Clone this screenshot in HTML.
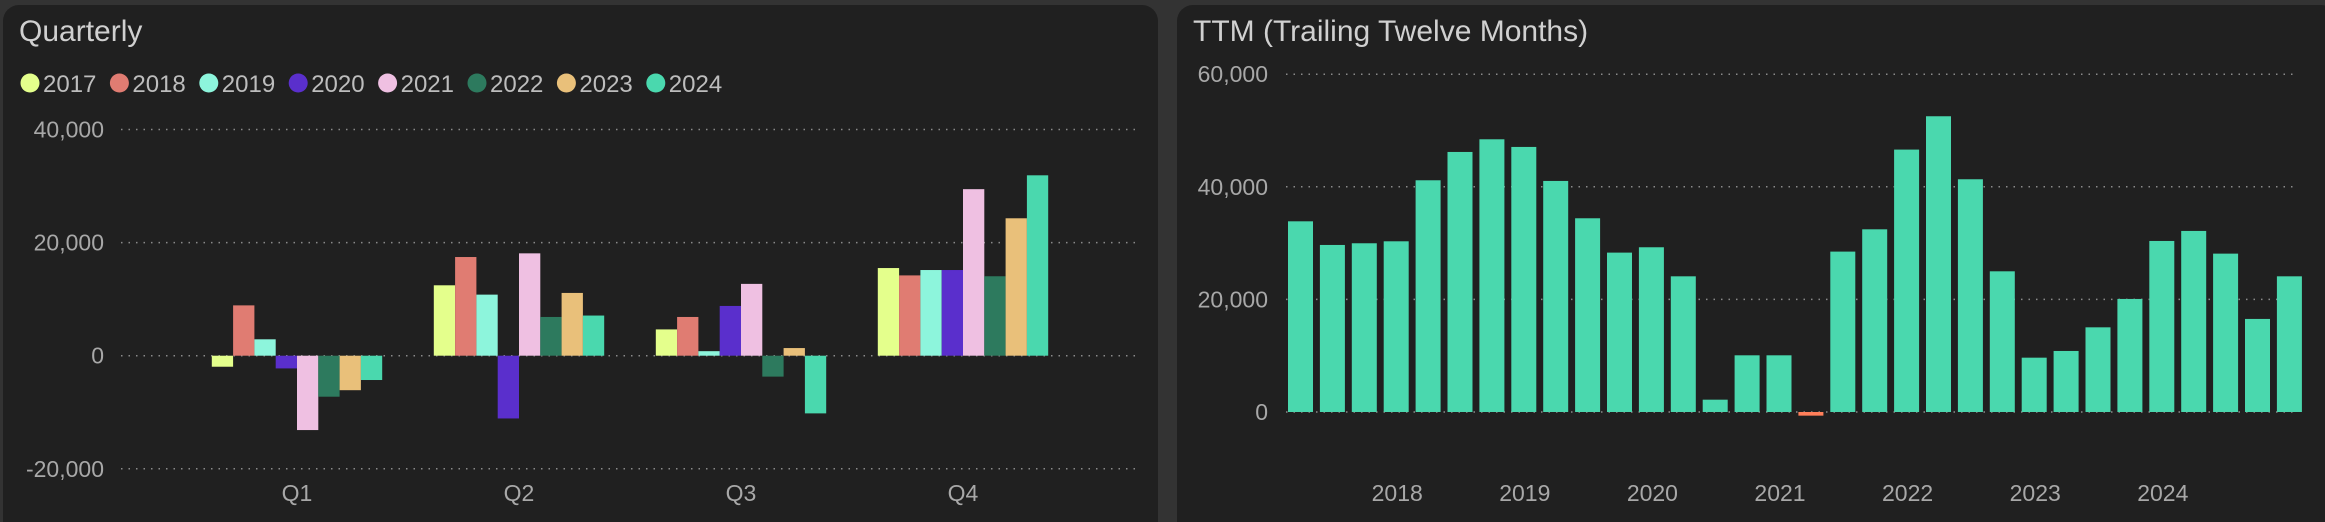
<!DOCTYPE html>
<html><head><meta charset="utf-8"><style>
html,body{margin:0;padding:0;background:#333;width:2325px;height:522px;overflow:hidden}
svg{display:block;font-family:"Liberation Sans",sans-serif}
</style></head><body>
<svg width="2325" height="522">
<rect x="0" y="0" width="2325" height="522" fill="#333"/>
<rect x="3" y="5" width="1155" height="540" rx="16" fill="#202020"/>
<rect x="1177" y="5" width="1160" height="540" rx="16" fill="#202020"/>
<text x="19" y="41" font-size="30" fill="#d0d0d0">Quarterly</text>
<text x="1193" y="41" font-size="30" fill="#d0d0d0">TTM (Trailing Twelve Months)</text>
<g id="q"></g><g id="t"></g>
</svg>
<script>
const years=["2017","2018","2019","2020","2021","2022","2023","2024"];
const colors=["#e4ff8c","#e07c72","#8df5dc","#5a2fcc","#efc0e2","#2d7a5e","#e9c07a","#4ad8ae"];
const quarters=["Q1","Q2","Q3","Q4"];
const v2017=[-1950,12450,4650,15500];
const v2018=[8900,17450,6850,14200];
const v2019=[2900,10800,800,15150];
const v2020=[-2250,-11100,8800,15150];
const v2021=[-13150,18100,12700,29450];
const v2022=[-7250,6850,-3700,14050];
const v2023=[-6100,11100,1350,24300];
const v2024=[-4300,7100,-10200,31900];
const qTicks=[40000,20000,0,-20000];
const ttmValues=[33870,29670,29970,30320,41160,46190,48440,47080,41040,34410,28310,29260,24100,2190,10070,10070,-650,28490,32450,46610,52530,41340,24990,9650,10840,15040,20080,30380,32160,28130,16530,24100];
const ttmYearLabels=["2018","2019","2020","2021","2022","2023","2024"];
const ttmTicks=[60000,40000,20000,0];
const NS="http://www.w3.org/2000/svg";
function mk(p,tag,a){const e=document.createElementNS(NS,tag);for(const k in a)e.setAttribute(k,a[k]);p.appendChild(e);return e;}
const fmt=v=>v.toLocaleString("en-US");
// Quarterly
const q=document.getElementById("q");
const series=[v2017,v2018,v2019,v2020,v2021,v2022,v2023,v2024];
const qy=v=>355.7-v*(113.1/20000);
const qx=i=>297+i*222;
const bw=21.3;
years.forEach((y,i)=>{
  const cx=30+i*89.4;
  const c=mk(q,"circle",{cx:cx,cy:83,r:9.5,fill:colors[i]});
  
  
  const t=mk(q,"text",{x:cx+13,y:92,"font-size":24,fill:"#bdbdbd"});
  t.textContent=y;
  
  
});
qTicks.forEach(v=>{
  const l=mk(q,"line",{x1:121,x2:1140,y1:qy(v),y2:qy(v),stroke:"#8a8a8a","stroke-width":1.5,"stroke-dasharray":"1.5,6"});
  
  
  const t=mk(q,"text",{x:104,y:qy(v)+8,"font-size":23,fill:"#a8a8a8","text-anchor":"end"});
  t.textContent=fmt(v);
  
  
});
quarters.forEach((qq,j)=>{
  series.forEach((s,i)=>{
    const v=s[j];const x=qx(j)-4*bw+i*bw;
    const y0=qy(0),y1=qy(v);
    const r=mk(q,"rect",{x:x,y:Math.min(y0,y1),width:bw,height:Math.abs(y1-y0),fill:colors[i]});
    
    
  });
  const t=mk(q,"text",{x:qx(j),y:501,"font-size":23,fill:"#a8a8a8","text-anchor":"middle"});
  t.textContent=qq;
  
  
});
// TTM
const tg=document.getElementById("t");
const ty=v=>412-v*(112.6/20000);
const tx=i=>1300.5+i*31.9;
ttmTicks.forEach(v=>{
  const l=mk(tg,"line",{x1:1286,x2:2297,y1:ty(v),y2:ty(v),stroke:"#8a8a8a","stroke-width":1.5,"stroke-dasharray":"1.5,6"});
  
  
  const t=mk(tg,"text",{x:1268,y:ty(v)+8,"font-size":23,fill:"#a8a8a8","text-anchor":"end"});
  t.textContent=fmt(v);
  
  
});
ttmValues.forEach((v,i)=>{
  const y0=ty(0),y1=ty(v);
  const r=mk(tg,"rect",{x:tx(i)-12.5,y:Math.min(y0,y1),width:25,height:Math.max(Math.abs(y1-y0),1),fill:v<0?"#ff7f5a":"#4ad8ae"});
  
  
});
ttmYearLabels.forEach((y,k)=>{
  const t=mk(tg,"text",{x:tx(3+4*k)+1,y:501,"font-size":23,fill:"#a8a8a8","text-anchor":"middle"});
  t.textContent=y;
  
  
});
</script>
</body></html>
